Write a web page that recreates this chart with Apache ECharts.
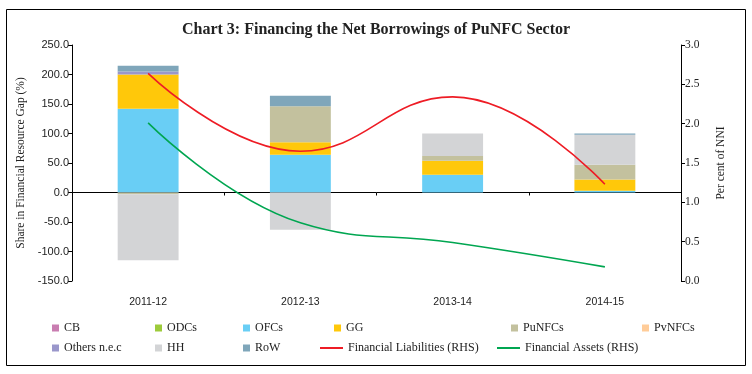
<!DOCTYPE html>
<html>
<head>
<meta charset="utf-8">
<script src="https://cdn.jsdelivr.net/npm/echarts@6/dist/echarts.min.js"></script>
<style>html,body{margin:0;padding:0;background:#fff}#c{width:752px;height:374px}</style>
</head>
<body>
<div id="c"></div>
<script>
var categories = ['2011-12', '2012-13', '2013-14', '2014-15'];
var CB = [0, 0, 0, 0];
var ODCs = [0, 0, 0, 0];
var OFCs = [142, 64, 30, 3];
var GG = [58, 21, 24, 19];
var PuNFCs = [-3, 61, 8, 25];
var PvNFCs = [0, 0, 0, 0];
var OthersNec = [5, 0, 0, 0];
var HH = [-112, -63, 38, 51];
var RoW = [10, 18, 0, 2];
var finLiabilities = [2.64, 1.65, 2.34, 1.23];
var finAssets = [2.01, 0.74, 0.49, 0.18];
var leftTicks = { min: -150, max: 250, interval: 50 };
var rightTicks = { min: 0, max: 3, interval: 0.5 };

var barSeries = [
  ['CB', CB, '#C97DB1'],
  ['ODCs', ODCs, '#9DCB3B'],
  ['OFCs', OFCs, '#69CEF5'],
  ['GG', GG, '#FFC80A'],
  ['PuNFCs', PuNFCs, '#C3C19E'],
  ['PvNFCs', PvNFCs, '#FFCC99'],
  ['Others n.e.c', OthersNec, '#9A97CB'],
  ['HH', HH, '#D3D4D6'],
  ['RoW', RoW, '#7FA6BA']
];
var lineSeries = [
  ['Financial Liabilities (RHS)', finLiabilities, '#EE1C25'],
  ['Financial Assets (RHS)', finAssets, '#00A651']
];

var series = barSeries.map(function (s) {
  return {
    name: s[0], type: 'bar', stack: 'gap', data: s[1], barWidth: '40%',
    xAxisIndex: 0, yAxisIndex: 0,
    itemStyle: { color: s[2] }
  };
}).concat(lineSeries.map(function (s) {
  return {
    name: s[0], type: 'line', data: s[1], smooth: 0.45, symbol: 'none',
    xAxisIndex: 0, yAxisIndex: 1, z: 5,
    lineStyle: { color: s[2], width: 1.6 }, itemStyle: { color: s[2] }
  };
}));

var legendLayout = [
  ['CB', 52, 322], ['ODCs', 155, 322], ['OFCs', 243, 322], ['GG', 334, 322], ['PuNFCs', 511, 322], ['PvNFCs', 642, 322],
  ['Others n.e.c', 52, 342], ['HH', 155, 342], ['RoW', 243, 342],
  ['Financial Liabilities (RHS)', 320, 342], ['Financial Assets (RHS)', 497, 342]
];
var legendTextStyle = { fontFamily: 'Liberation Serif', fontSize: 12, color: '#222' };
var legends = legendLayout.map(function (l) {
  var isLine = l[0].indexOf('RHS') >= 0;
  return {
    data: [l[0]], left: l[1], top: l[2], padding: 0,
    itemWidth: isLine ? 23 : 7, itemHeight: isLine ? 2 : 7, itemGap: 0,
    icon: 'rect',
    textStyle: legendTextStyle,
    selectedMode: false
  };
});

var chart = echarts.init(document.getElementById('c'), null, { renderer: 'canvas' });
chart.setOption({
  animation: false,
  backgroundColor: '#fff',
  title: {
    text: 'Chart 3: Financing the Net Borrowings of PuNFC Sector',
    left: 'center', top: 17,
    textStyle: { fontFamily: 'Liberation Serif', fontWeight: 'bold', fontSize: 16, color: '#222' }
  },
  graphic: [{
    type: 'rect', shape: { x: 6.5, y: 9.5, width: 739, height: 356 },
    style: { fill: 'none', stroke: '#000', lineWidth: 1 }, silent: true
  }],
  legend: legends,
  grid: { left: 72, right: 71, top: 45, bottom: 93 },
  xAxis: [{
    type: 'category', data: categories,
    axisLine: { onZero: true, onZeroAxisIndex: 0, lineStyle: { color: '#000', width: 1 } },
    axisTick: { show: true, length: 3, inside: false, lineStyle: { color: '#000' } },
    axisLabel: { show: false }
  }, {
    type: 'category', data: categories, position: 'bottom',
    axisLine: { show: false }, axisTick: { show: false },
    axisLabel: { show: true, margin: 16, fontFamily: 'Liberation Sans', fontSize: 10.5, color: '#222' }
  }],
  yAxis: [{
    type: 'value', min: leftTicks.min, max: leftTicks.max, interval: leftTicks.interval,
    name: 'Share in Financial Resource Gap (%)', nameLocation: 'middle', nameGap: 39, nameRotate: 90,
    nameTextStyle: { fontFamily: 'Liberation Serif', fontSize: 11.5, color: '#222' },
    axisLine: { show: true, lineStyle: { color: '#000' } },
    axisTick: { show: true, length: 4, lineStyle: { color: '#000' } },
    splitLine: { show: false },
    axisLabel: {
      margin: 3, fontFamily: 'Liberation Sans', fontSize: 11, color: '#222',
      formatter: function (v) { return v.toFixed(1); }
    }
  }, {
    type: 'value', min: rightTicks.min, max: rightTicks.max, interval: rightTicks.interval, position: 'right',
    name: 'Per cent of NNI', nameLocation: 'middle', nameGap: 34, nameRotate: 90,
    nameTextStyle: { fontFamily: 'Liberation Serif', fontSize: 11.5, color: '#222' },
    axisLine: { show: true, lineStyle: { color: '#000' } },
    axisTick: { show: true, length: 4, lineStyle: { color: '#000' } },
    splitLine: { show: false },
    axisLabel: {
      margin: 4, fontFamily: 'Liberation Serif', fontSize: 11.5, color: '#222',
      formatter: function (v) { return v.toFixed(1); }
    }
  }],
  series: series
});
</script>
</body>
</html>
